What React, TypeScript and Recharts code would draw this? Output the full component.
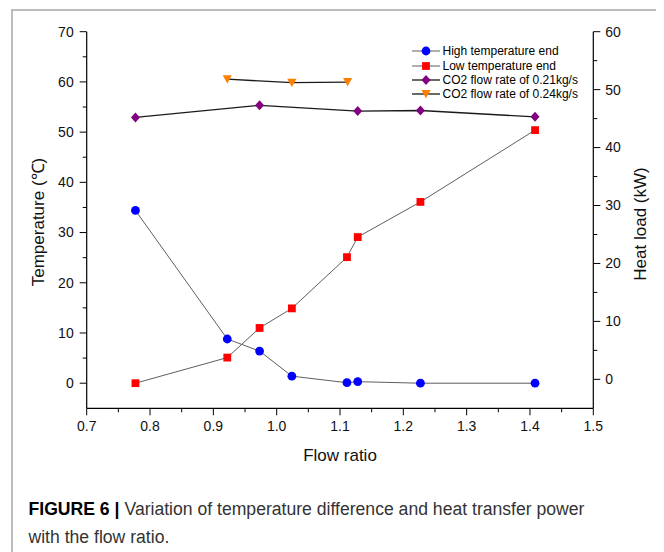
import React from 'react';
import { LineChart, Line, XAxis, YAxis, Legend } from 'recharts';

// measured values
const flowRatio = [0.777, 0.922, 0.973, 1.024, 1.111, 1.128, 1.227, 1.408];
const highTempEnd = [34.4, 8.8, 6.4, 1.4, 0.1, 0.3, 0.0, 0.0];
const lowTempEnd = [0.0, 5.1, 11.0, 14.9, 25.1, 29.1, 36.1, 50.4];
const flowRatio021 = [0.777, 0.973, 1.128, 1.227, 1.408];
const heatLoad021 = [45.2, 47.3, 46.3, 46.4, 45.3];
const flowRatio024 = [0.922, 1.024, 1.112];
const heatLoad024 = [51.8, 51.2, 51.3];

// axis ticks (major + minor)
const xTicks = [0.7, 0.75, 0.8, 0.85, 0.9, 0.95, 1.0, 1.05, 1.1, 1.15, 1.2, 1.25, 1.3, 1.35, 1.4, 1.45, 1.5];
const tempTicks = [0, 5, 10, 15, 20, 25, 30, 35, 40, 45, 50, 55, 60, 65, 70];
const heatTicks = [0, 5, 10, 15, 20, 25, 30, 35, 40, 45, 50, 55, 60];

const FONT = '"Liberation Sans", Arial, Helvetica, sans-serif';
const TICK_SIZE = 7;
const TICK_MARGIN = 6;

const toPoints = (xs: number[], ys: number[]) => xs.map((x, i) => ({ x, y: ys[i] }));

const series = [
  { key: 'high', name: 'High temperature end', color: '#0000ff', lineColor: '#5e5e5e', lineWidth: 1, shape: 'circle', axis: 'temp', data: toPoints(flowRatio, highTempEnd) },
  { key: 'low', name: 'Low temperature end', color: '#ff0000', lineColor: '#5e5e5e', lineWidth: 1, shape: 'square', axis: 'temp', data: toPoints(flowRatio, lowTempEnd) },
  { key: 'co021', name: 'CO2 flow rate of 0.21kg/s', color: '#800080', lineColor: '#1a1a1a', lineWidth: 1.3, shape: 'diamond', axis: 'heat', data: toPoints(flowRatio021, heatLoad021) },
  { key: 'co024', name: 'CO2 flow rate of 0.24kg/s', color: '#ff8000', lineColor: '#1a1a1a', lineWidth: 1.3, shape: 'triangle', axis: 'heat', data: toPoints(flowRatio024, heatLoad024) },
];

const renderMarker = (shape: string, cx: number, cy: number, color: string, key: string) => {
  if (shape === 'circle') return <circle key={key} cx={cx} cy={cy} r={4.4} fill={color} />;
  if (shape === 'square') return <rect key={key} x={cx - 3.9} y={cy - 3.9} width={7.8} height={7.8} fill={color} />;
  if (shape === 'diamond')
    return <polygon key={key} points={`${cx},${cy - 5} ${cx + 4.5},${cy} ${cx},${cy + 5} ${cx - 4.5},${cy}`} fill={color} />;
  return <polygon key={key} points={`${cx - 4.6},${cy - 4} ${cx + 4.6},${cy - 4} ${cx},${cy + 4.2}`} fill={color} />;
};

const tickText = { fontFamily: FONT, fontSize: 14, fill: '#111' };

const BottomTick = ({ x, y, payload }: any) => {
  const v = payload.value as number;
  const major = Math.round(v * 100) % 10 === 0;
  const ay = y - TICK_SIZE - TICK_MARGIN;
  return (
    <g>
      <line x1={x} x2={x} y1={ay} y2={ay + (major ? 7 : 4)} stroke="#000" />
      {major && (
        <text x={x} y={y} dy="0.71em" textAnchor="middle" {...tickText}>
          {v.toFixed(1)}
        </text>
      )}
    </g>
  );
};

const TopTick = ({ x, y }: any) => {
  const ay = y - TICK_SIZE - TICK_MARGIN;
  return <line x1={x} x2={x} y1={ay} y2={ay + 5} stroke="#000" />;
};

const LeftTick = ({ x, y, payload }: any) => {
  const v = payload.value as number;
  const major = v % 10 === 0;
  const ax = x + TICK_SIZE + TICK_MARGIN;
  return (
    <g>
      <line x1={ax - (major ? 7 : 4)} x2={ax} y1={y} y2={y} stroke="#000" />
      {major && (
        <text x={x} y={y} dy="0.35em" textAnchor="end" {...tickText}>
          {v}
        </text>
      )}
    </g>
  );
};

const RightTick = ({ x, y, payload }: any) => {
  const v = payload.value as number;
  const major = v % 10 === 0;
  const ax = x - TICK_SIZE - TICK_MARGIN;
  return (
    <g>
      <line x1={ax} x2={ax + (major ? 7 : 4)} y1={y} y2={y} stroke="#000" />
      {major && (
        <text x={x - 1} y={y} dy="0.35em" textAnchor="start" {...tickText}>
          {v}
        </text>
      )}
    </g>
  );
};

const renderLegend = () => (
  <div style={{ fontFamily: FONT, fontSize: 12, color: '#000' }}>
    {series.map((s) => (
      <div key={s.key} style={{ display: 'flex', alignItems: 'center', height: 14.3 }}>
        <svg width={28} height={14} style={{ display: 'block' }}>
          <line x1={0} x2={28} y1={7} y2={7} stroke={s.lineColor} strokeWidth={s.lineWidth} />
          {renderMarker(s.shape, 14, 7, s.color, s.key)}
        </svg>
        <span style={{ marginLeft: 2.5, whiteSpace: 'nowrap' }}>{s.name}</span>
      </div>
    ))}
  </div>
);

const titleStyle: React.CSSProperties = {
  position: 'absolute',
  width: 0,
  height: 0,
  fontFamily: FONT,
  fontSize: 17,
  color: '#111',
};

const App = () => {
  return (
    <div style={{ position: 'relative', width: 656, height: 544, overflow: 'hidden', background: '#fff' }}>
      <div
        style={{
          position: 'absolute',
          left: 3,
          top: 1,
          width: 652,
          height: 600,
          boxSizing: 'border-box',
          border: '2px solid #bcbcbc',
        }}
      />
      <div style={{ position: 'absolute', left: 0, top: 0 }}>
        <LineChart width={656} height={440} margin={{ top: 23.7, right: 0, bottom: 0, left: 0 }}>
          <XAxis
            xAxisId="bottom"
            dataKey="x"
            type="number"
            domain={[0.7, 1.5]}
            ticks={xTicks}
            interval={0}
            height={39.7}
            tickSize={TICK_SIZE}
            tickMargin={TICK_MARGIN}
            tickLine={false}
            tick={BottomTick}
            axisLine={{ stroke: '#000', strokeWidth: 1.2 }}
            allowDataOverflow
          />
          <XAxis
            xAxisId="top"
            orientation="top"
            dataKey="x"
            type="number"
            domain={[0.7, 1.5]}
            ticks={xTicks}
            interval={0}
            height={0}
            mirror
            tickSize={TICK_SIZE}
            tickMargin={TICK_MARGIN}
            tickLine={false}
            tick={TopTick}
            axisLine={{ stroke: '#000', strokeWidth: 1.2 }}
            allowDataOverflow
          />
          <YAxis
            yAxisId="temp"
            orientation="left"
            type="number"
            domain={[-5, 70]}
            ticks={tempTicks}
            interval={0}
            width={78.7}
            tickSize={TICK_SIZE}
            tickMargin={TICK_MARGIN}
            tickLine={false}
            tick={LeftTick}
            axisLine={{ stroke: '#000', strokeWidth: 1.2 }}
            allowDataOverflow
          />
          <YAxis
            yAxisId="heat"
            orientation="right"
            type="number"
            domain={[-5, 60]}
            ticks={heatTicks}
            interval={0}
            width={70.7}
            tickSize={TICK_SIZE}
            tickMargin={TICK_MARGIN}
            tickLine={false}
            tick={RightTick}
            axisLine={{ stroke: '#000', strokeWidth: 1.2 }}
            allowDataOverflow
          />
          <Legend
            layout="horizontal"
            verticalAlign="middle"
            align="center"
            content={renderLegend}
            wrapperStyle={{ left: 404, top: 36.3, width: 220, height: 60 }}
          />
          {series.map((s) => (
            <Line
              key={s.key}
              data={s.data}
              dataKey="y"
              name={s.name}
              xAxisId="bottom"
              yAxisId={s.axis}
              type="linear"
              stroke={s.lineColor}
              strokeWidth={s.lineWidth}
              dot={(p: any) => renderMarker(s.shape, p.cx, p.cy, s.color, `${s.key}-${p.index}`)}
              activeDot={false}
              isAnimationActive={false}
            />
          ))}
        </LineChart>
      </div>
      <div style={{ ...titleStyle, left: 29, top: 214 }}>
        <span style={{ position: 'absolute', transform: 'translate(-50%, -50%) rotate(-90deg)', whiteSpace: 'nowrap' }}>
          Temperature (℃)
        </span>
      </div>
      <div style={{ ...titleStyle, left: 633, top: 216 }}>
        <span style={{ position: 'absolute', transform: 'translate(-50%, -50%) rotate(-90deg)', whiteSpace: 'nowrap' }}>
          Heat load (kW)
        </span>
      </div>
      <div style={{ ...titleStyle, left: 332, top: 448 }}>
        <span style={{ position: 'absolute', transform: 'translate(-50%, -50%)', whiteSpace: 'nowrap' }}>Flow ratio</span>
      </div>
      <div
        style={{
          position: 'absolute',
          left: 20.5,
          top: 486.7,
          width: 600,
          fontFamily: FONT,
          fontSize: 17.6,
          lineHeight: '28px',
          color: '#333',
          whiteSpace: 'nowrap',
        }}
      >
        <div>
          <b style={{ color: '#000' }}>FIGURE 6 |</b>
          <span style={{ marginLeft: 5 }}>Variation of temperature difference and heat transfer power</span>
        </div>
        <div>
          <span>with the flow ratio.</span>
        </div>
      </div>
    </div>
  );
};

export default App;
